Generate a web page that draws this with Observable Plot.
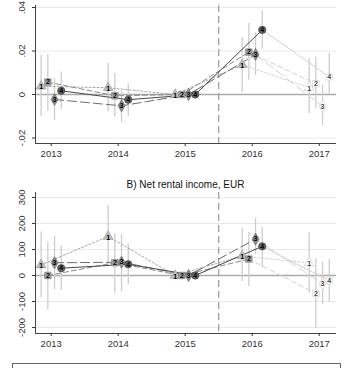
<!DOCTYPE html>
<html>
<head>
<meta charset="utf-8">
<script src="https://cdn.jsdelivr.net/npm/d3@7"></script>
<script src="https://cdn.jsdelivr.net/npm/@observablehq/plot@0.6"></script>
<style>
  html, body { margin: 0; padding: 0; background: #fff; }
  #wrap { position: relative; width: 353px; height: 368px; overflow: hidden; background: #fff; font-family: "Liberation Sans", Arial, sans-serif; }
  #top, #bottom { position: absolute; left: 0; }
  #top { top: 0; }
  #bottom { top: 180px; }
  #title { position: absolute; top: 179px; left: 35px; width: 301px; text-align: center; font-size: 10px; color: #111; }
  #legendbox { position: absolute; top: 363px; left: 12px; width: 327px; height: 20px; border: 1px solid #666; }
</style>
</head>
<body>
<div id="wrap">
  <div id="top"></div>
  <div id="title">B) Net rental income, EUR</div>
  <div id="bottom"></div>
  <div id="legendbox"></div>
</div>
<script>
const years = [2013, 2014, 2015, 2016, 2017];
const seriesLabels = ["1", "2", "3", "4"];

// Panel A
const topTicks = [-0.02, 0, 0.02, 0.04];
const topTickLabels = ["-.02", "0", ".02", ".04"];
const a1 = [0.0038, 0.0031, 0, 0.0137, 0.0032];
const a1lo = [-0.0100, -0.0081, 0, 0.0010, -0.0089];
const a1hi = [0.0180, 0.0144, 0, 0.0262, 0.0164];
const a2 = [0.0057, -0.0006, 0, 0.0195, 0.0049];
const a2lo = [-0.0077, -0.0104, 0, 0.0064, -0.0066];
const a2hi = [0.0184, 0.0098, 0, 0.0328, 0.0171];
const a3 = [-0.0023, -0.0052, 0, 0.0184, -0.0055];
const a3lo = [-0.0120, -0.0129, 0, 0.0087, -0.0143];
const a3hi = [0.0072, 0.0015, 0, 0.0285, 0.0042];
const a4 = [0.0017, -0.0024, 0, 0.0297, 0.0081];
const a4lo = [-0.0070, -0.0100, 0, 0.0212, 0.0003];
const a4hi = [0.0103, 0.0049, 0, 0.0386, 0.0190];

// Panel B
const botTicks = [-200, -100, 0, 100, 200, 300];
const botTickLabels = ["-200", "-100", "0", "100", "200", "300"];
const b1 = [41, 150, 0, 75, 48];
const b1lo = [-87, 38, 0, -24, -68];
const b1hi = [167, 269, 0, 180, 164];
const b2 = [0, 49, 0, 63, -69];
const b2lo = [-131, -68, 0, -43, -203];
const b2hi = [128, 160, 0, 165, 64];
const b3 = [49, 51, 0, 140, -32];
const b3lo = [-55, -62, 0, 80, -112];
const b3hi = [150, 157, 0, 220, 52];
const b4 = [28, 43, 0, 112, -20];
const b4lo = [-58, -36, 0, 30, -104];
const b4hi = [112, 122, 0, 184, 61];

const symbols = ["triangle", "square", "diamond", "circle"];
const fills = ["#bdbdbd", "#a0a0a0", "#8a8a8a", "#626262"];
const strokes = ["#9a9a9a", "#7c7c7c", "#666666", "#3e3e3e"];
const lineColors = ["#a8a8a8", "#8a8a8a", "#6c6c6c", "#484848"];
const dashes = ["2,2", "5,3", "9,4", null];
const dodge = [-0.15, -0.05, 0.05, 0.15];

function panel(vals, los, his, yDomain, yTicks, yLabels, height, marginTop, marginBottom) {
  const rows = [];
  vals.forEach((v, si) => years.forEach((yr, yi) => rows.push({
    s: si, label: seriesLabels[si], year: yr, x: yr + dodge[si],
    v: v[yi], lo: los[si][yi], hi: his[si][yi]
  })));
  const marks = [];
  marks.push(Plot.ruleY(yTicks.filter(t => t !== 0), {y: d => d, stroke: "#e9e9e9", strokeWidth: 1}));
  marks.push(Plot.ruleY([0], {stroke: "#ababab", strokeWidth: 1.4}));
  marks.push(Plot.ruleX([2015.5], {stroke: "#9a9a9a", strokeWidth: 1.2, strokeDasharray: "7,4"}));
  marks.push(Plot.ruleX(rows.filter(d => d.hi !== d.lo), {x: "x", y1: "lo", y2: "hi", stroke: "#cdcdcd", strokeWidth: 1.3}));
  for (let si = 0; si < 4; si++) {
    const sr = rows.filter(d => d.s === si);
    marks.push(Plot.line(sr.filter(d => d.year >= 2016), {x: "x", y: "v", stroke: "#d2d2d2", strokeWidth: 1, strokeDasharray: dashes[si]}));
    marks.push(Plot.line(sr.filter(d => d.year <= 2016), {x: "x", y: "v", stroke: lineColors[si], strokeWidth: 1, strokeDasharray: dashes[si]}));
  }
  for (let si = 0; si < 4; si++) {
    const sr = rows.filter(d => d.s === si);
    marks.push(Plot.dot(sr.filter(d => d.year <= 2016), {x: "x", y: "v", symbol: symbols[si], r: 3.7, fill: fills[si], stroke: strokes[si], strokeWidth: 0.6}));
    marks.push(Plot.dot(sr.filter(d => d.year === 2017), {x: "x", y: "v", symbol: symbols[si], r: 3.7, fill: "#ffffff", stroke: "#d0d0d0", strokeWidth: 0.7}));
    marks.push(Plot.text(sr, {x: "x", y: "v", text: "label", fontSize: 7, fontWeight: "bold", fill: d => d.year === 2017 ? "#444444" : "#000000", dy: si === 0 ? 1 : 0}));
  }
  marks.push(Plot.ruleY([yDomain[0]], {stroke: "#444", strokeWidth: 1}));
  marks.push(Plot.ruleX([2012.766], {stroke: "#444", strokeWidth: 1}));
  marks.push(Plot.axisX({ticks: years, tickFormat: d => String(d), tickSize: 3, tickPadding: 4, fontSize: 9.5, color: "#333", label: null}));
  marks.push(Plot.axisY({ticks: yTicks, tickSize: 3, tickFormat: () => "", color: "#333", label: null}));
  marks.push(Plot.text(yTicks, {y: d => d, text: (d, i) => yLabels[i], frameAnchor: "left", dx: -13.5, rotate: -90, textAnchor: "middle", fontSize: 9.5, fill: "#333"}));
  return Plot.plot({
    width: 353, height, marginLeft: 35, marginRight: 17, marginTop, marginBottom,
    x: {domain: [2012.766, 2017.258]},
    y: {domain: yDomain},
    style: {fontFamily: "'Liberation Sans', Arial, sans-serif", background: "transparent", overflow: "visible"},
    marks
  });
}

document.getElementById("top").appendChild(
  panel([a1, a2, a3, a4], [a1lo, a2lo, a3lo, a4lo], [a1hi, a2hi, a3hi, a4hi],
        [-0.02253, 0.04092], topTicks, topTickLabels, 165, 5, 22));
document.getElementById("bottom").appendChild(
  panel([b1, b2, b3, b4], [b1lo, b2lo, b3lo, b4lo], [b1hi, b2hi, b3hi, b4hi],
        [-223, 319], botTicks, botTickLabels, 178, 12, 25));
</script>
</body>
</html>
